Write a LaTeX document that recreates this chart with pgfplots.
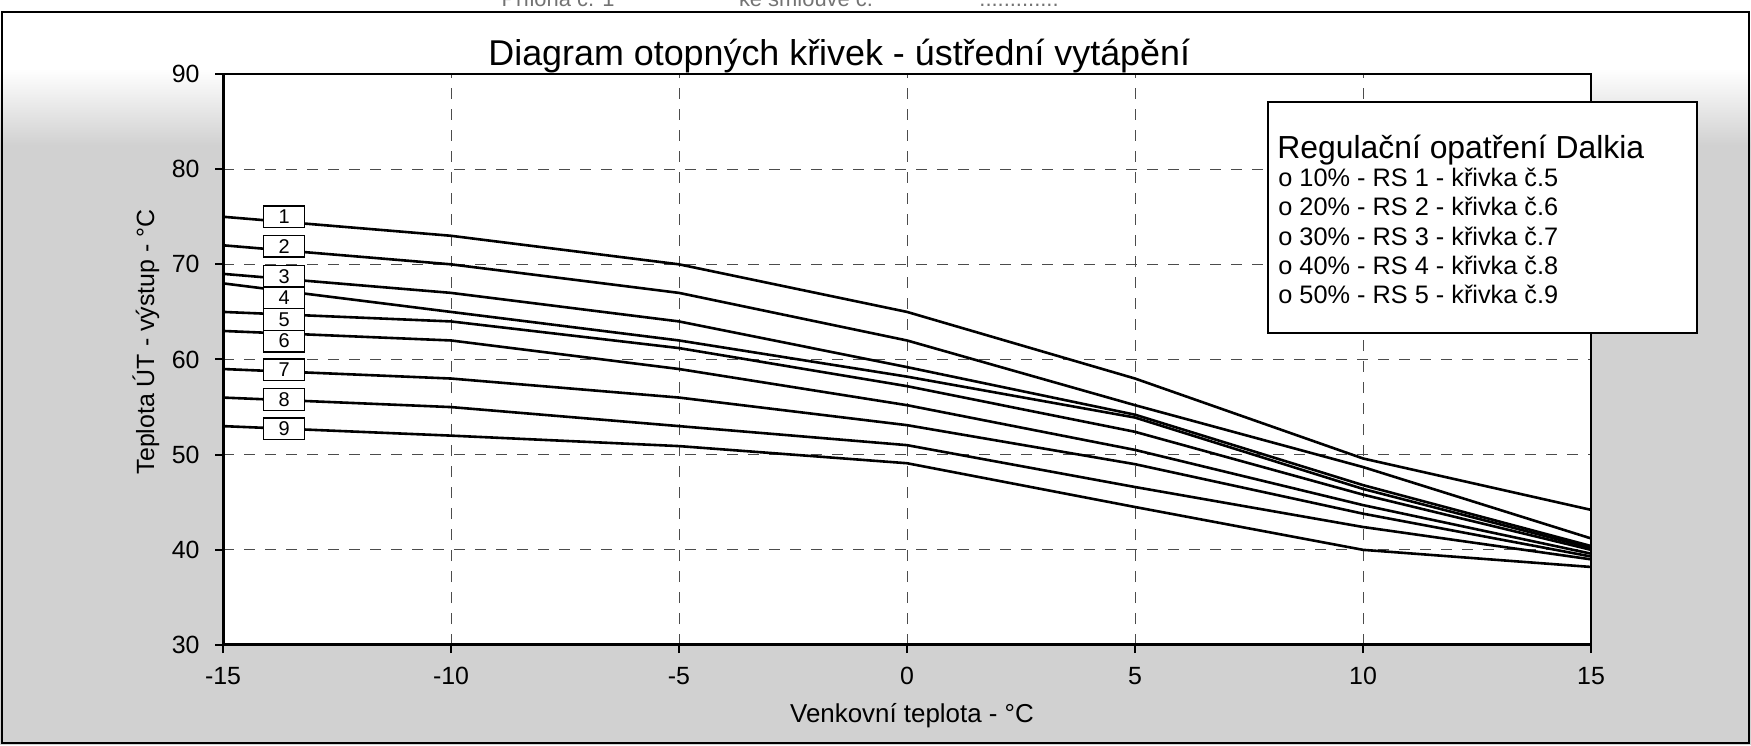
\documentclass[border=0pt]{standalone}
\usepackage{fontspec}
\setmainfont{Liberation Sans}
\usepackage{pgfplots}
\usepackage{pgfplotstable}
\pgfplotsset{compat=1.18}
\pgfplotstableread{
x c1 c2 c3 c4 c5 c6 c7 c8 c9
-15 75 72 69 68 65 63 59 56 53
-10 73 70 67 65 64 62 58 55 52
-5 70 67 64 62 61.2 59 56 53 50.9
0 65 62 59.2 58.2 57.2 55.2 53.1 51 49.1
5 58 55.2 54.2 53.9 52.4 50.5 49.0 46.6 44.5
10 49.6 48.7 46.8 46.4 45.8 44.7 43.8 42.4 40.0
15 44.2 41.2 40.4 40.2 40.0 39.6 39.3 39.0 38.2
}\curves
\begin{document}
\begin{tikzpicture}[x=1bp,y=1bp]
\useasboundingbox (0,0) rectangle (875.5,372.5);
\fill[gray!36] (0,0) rectangle (875.5,366);
\shade[top color=white, bottom color=gray!36] (0,300) rectangle (875.5,338);
\fill[white] (0,338) rectangle (875.5,372.5);
\draw[line width=0.8bp] (1,1) rectangle (874.5,366.5);
\begin{scope}[font=\fontsize{11}{13}\selectfont, text=black!55]
\node[anchor=base] at (279,369.5) {Příloha č. 1};
\node[anchor=base] at (403,369.5) {ke smlouvě č.};
\node[anchor=base] at (509.5,369.5) {.............};
\end{scope}
\begin{axis}[
  at={(111.5bp,50bp)}, anchor=south west,
  scale only axis, width=684bp, height=285.5bp,
  xmin=-15, xmax=15, ymin=30, ymax=90,
  xtick={-15,-10,...,15}, ytick={30,40,...,90},
  grid=major,
  major grid style={black!70, line width=0.5bp, dash pattern=on 5.5bp off 5bp},
  tick align=outside, tick pos=left, major tick length=4bp,
  tick style={black, line width=1bp},
  axis line style={black, line width=0.8bp},
  axis background/.style={fill=white},
  ticklabel style={font=\fontsize{12.5}{14}\selectfont, inner sep=0pt},
  /pgf/number format/assume math mode=true,
  yticklabel style={xshift=-7.5bp},
  xticklabel style={yshift=-7bp},
]
\pgfplotsinvokeforeach{1,...,9}{
  \addplot[black, line width=1.3bp, mark=none] table[x=x, y=c#1] {\curves};
}
\draw[black, line width=1.8bp] (axis cs:-15,90) -- (axis cs:-15,30) -- (axis cs:15,30);
\begin{scope}[every node/.style={draw, fill=white, line width=0.7bp, inner sep=0pt,
    minimum width=20.5bp, minimum height=10.8bp, font=\fontsize{10}{11}\selectfont}]
\node at (axis cs:-13.66,75.0) {1};
\node at (axis cs:-13.66,71.9) {2};
\node at (axis cs:-13.66,68.75) {3};
\node at (axis cs:-13.66,66.48) {4};
\node at (axis cs:-13.66,64.21) {5};
\node at (axis cs:-13.66,61.94) {6};
\node at (axis cs:-13.66,58.9) {7};
\node at (axis cs:-13.66,55.8) {8};
\node at (axis cs:-13.66,52.7) {9};
\end{scope}
\end{axis}
% legend box
\draw[fill=white, line width=0.7bp] (634,206) rectangle (848.5,321.5);
\node[anchor=base west, font=\fontsize{16}{18}\selectfont, inner sep=0pt] at (638.5,293.3) {Regulační opatření Dalkia};
\begin{scope}[every node/.style={anchor=base west, inner sep=0pt, font=\fontsize{12.7}{14}\selectfont}]
\node at (639,279.2) {o 10\% - RS 1 - křivka č.5};
\node at (639,264.6) {o 20\% - RS 2 - křivka č.6};
\node at (639,250.0) {o 30\% - RS 3 - křivka č.7};
\node at (639,235.4) {o 40\% - RS 4 - křivka č.8};
\node at (639,220.8) {o 50\% - RS 5 - křivka č.9};
\end{scope}
% titles
\node[anchor=base west, font=\fontsize{18}{20}\selectfont, inner sep=0pt] at (244,340) {Diagram otopných křivek - ústřední vytápění};
\node[anchor=base, font=\fontsize{13}{15}\selectfont, inner sep=0pt] at (456,11.5) {Venkovní teplota - °C};
\node[rotate=90, font=\fontsize{12.5}{14}\selectfont, inner sep=0pt] at (73,201.5) {Teplota ÚT - výstup - °C};
\end{tikzpicture}
\end{document}
